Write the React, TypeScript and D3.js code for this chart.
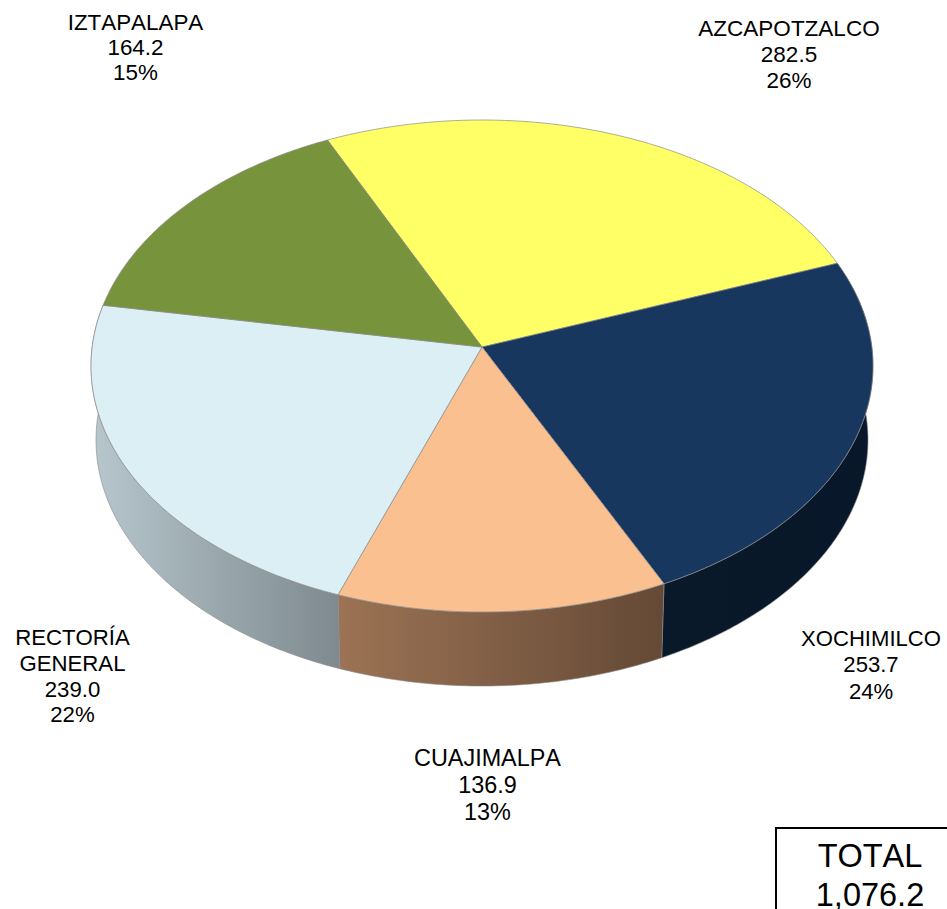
import React from "react";
import * as d3 from "d3";

const names = ["AZCAPOTZALCO", "XOCHIMILCO", "CUAJIMALPA", "RECTORÍA GENERAL", "IZTAPALAPA"];
const values = [282.5, 253.7, 136.9, 239.0, 164.2];
const percents = ["26%", "24%", "13%", "22%", "15%"];
const topColors = ["#ffff66", "#17375e", "#fac090", "#dceff5", "#77933c"];
const sideFrom = ["#a5a53f", "#09192a", "#9c7354", "#b7c7cd", "#4e6028"];
const sideTo = ["#a5a53f", "#08182a", "#644936", "#7e8a8f", "#4e6028"];
const labelLines = [["AZCAPOTZALCO"], ["XOCHIMILCO"], ["CUAJIMALPA"], ["RECTORÍA", "GENERAL"], ["IZTAPALAPA"]];
const labelAnchors: [number, number][] = [[789, 36], [871, 646], [487.5, 766], [72.5, 645], [135.5, 30]];
const labelSpacing = [25.8, 26.3, 26.8, 25.8, 25.2];
const labelSizes = [22.5, 22.1, 23.4, 22.2, 22.4];
const totalLines = ["TOTAL", "1,076.2"];

const W = 947, H = 909;
const top = { cx: 482, cy: 366, rx: 391, ry: 246 };
const bottom = { cx: 482, cy: 440, rx: 386, ry: 246 };
const k = -0.077; // perspective foreshortening: the apex sits above the ellipse centre

// Circle angle (clockwise from 12 o'clock) -> point on the tilted ellipse
function project(e: typeof top, a: number, r = 1): [number, number] {
  const u = r * Math.sin(a), v = -r * Math.cos(a);
  const d = 1 + k * v;
  return [e.cx + (e.rx * u * Math.sqrt(1 - k * k)) / d, e.cy + (e.ry * (v + k)) / d];
}

const startAngle = (-25.1 * Math.PI) / 180;
const arcs = d3.pie<number>().sort(null).startAngle(startAngle).endAngle(startAngle + 2 * Math.PI)(values);
const line = d3.line();

function samples(a0: number, a1: number) {
  const n = Math.max(2, Math.ceil((a1 - a0) * 80));
  return d3.range(n + 1).map((i) => a0 + ((a1 - a0) * i) / n);
}

const visible = new Set([1, 2, 3]);

export default function App() {
  return (
    <svg width={W} height={H} viewBox={`0 0 ${W} ${H}`}
      style={{ position: "absolute", left: 0, top: 0, display: "block", background: "#fff", fontKerning: "none" }}
      fontFamily="'Liberation Sans', Arial, sans-serif">
      <defs>
        {arcs.map((s, i) => {
          const pts = samples(s.startAngle, s.endAngle).map((a) => project(top, a));
          const xs = d3.extent(pts, (p) => p[0]) as [number, number];
          return (
            <linearGradient key={i} id={`side${i}`} gradientUnits="userSpaceOnUse" x1={xs[0]} y1={0} x2={xs[1]} y2={0}>
              <stop offset="0" stopColor={sideFrom[i]} />
              <stop offset="1" stopColor={sideTo[i]} />
            </linearGradient>
          );
        })}
      </defs>
      {arcs.map((s, i) => {
        if (!visible.has(i)) return null;
        const as = samples(s.startAngle, s.endAngle);
        const poly = [...as.map((a) => project(top, a)), ...as.slice().reverse().map((a) => project(bottom, a))];
        return <path key={i} d={line(poly) + "Z"} fill={`url(#side${i})`} stroke="#8a8a8a" strokeWidth={0.6} />;
      })}
      {arcs.map((s, i) => {
        const poly = [project(top, 0, 0), ...samples(s.startAngle, s.endAngle).map((a) => project(top, a))];
        return <path key={i} d={line(poly) + "Z"} fill={topColors[i]} stroke="#8a8a8a" strokeWidth={0.7} />;
      })}
      {names.map((name, i) => {
        const [x, y] = labelAnchors[i];
        const lines = [...labelLines[i], d3.format(".1f")(values[i]), percents[i]];
        return (
          <text key={name} x={x} y={y} fontSize={labelSizes[i]} textAnchor="middle" fill="#000">
            {lines.map((t, j) => (
              <tspan key={j} x={x} y={y + j * labelSpacing[i]}>{t}</tspan>
            ))}
          </text>
        );
      })}
      <rect x={776} y={828} width={220} height={120} fill="#fff" stroke="#000" strokeWidth={2} />
      <text fontSize={32.5} textAnchor="middle" fill="#000">
        {totalLines.map((t, j) => (
          <tspan key={j} x={870} y={867 + j * 39}>{t}</tspan>
        ))}
      </text>
    </svg>
  );
}
